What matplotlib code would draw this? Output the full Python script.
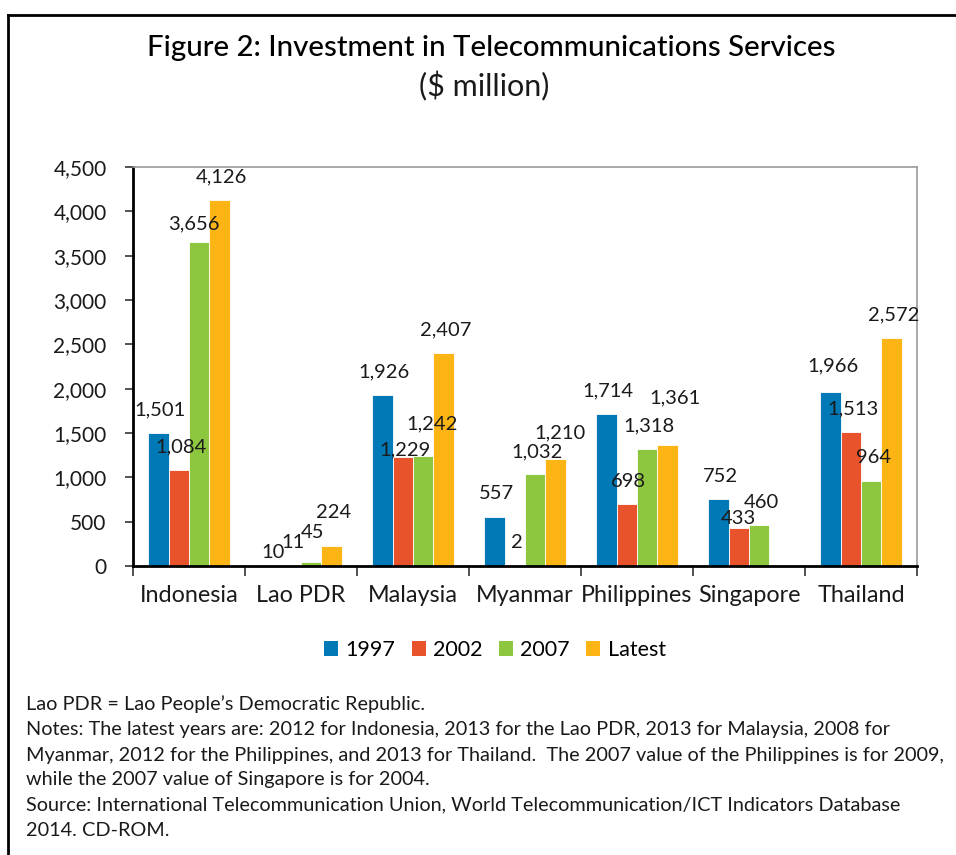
import matplotlib
matplotlib.use("Agg")
import matplotlib.pyplot as plt
from matplotlib.patches import Patch
from matplotlib.lines import Line2D
import numpy as np

countries = ["Indonesia", "Lao PDR", "Malaysia", "Myanmar", "Philippines", "Singapore", "Thailand"]
series_names = ["1997", "2002", "2007", "Latest"]
v1997 = [1501, 10, 1926, 557, 1714, 752, 1966]
v2002 = [1084, 11, 1229, 2, 698, 433, 1513]
v2007 = [3656, 45, 1242, 1032, 1318, 460, 964]
vlatest = [4126, 224, 2407, 1210, 1361, None, 2572]
yticks = [0, 500, 1000, 1500, 2000, 2500, 3000, 3500, 4000, 4500]

# label placement nudges (pixels: dx, dy) relative to the default outside-end position
label_nudges = {
    ("Indonesia", 2): (-7, -5),
    ("Lao PDR", 0): (1, -10),
    ("Lao PDR", 2): (-1, 7),
    ("Lao PDR", 3): (0, 11),
    ("Malaysia", 1): (0, -16),
    ("Malaysia", 2): (7, 9),
    ("Myanmar", 3): (2, 3),
    ("Philippines", 3): (5, 24),
    ("Singapore", 1): (-2, -14),
    ("Thailand", 0): (1, 3),
}

colors = ["#0079B6", "#E8532C", "#8DC63F", "#FDB515"]
FONT = ["Lato", "DejaVu Sans"]
plt.rcParams["font.family"] = FONT

W, H = 956, 855
fig = plt.figure(figsize=(W / 100, H / 100), dpi=100)
ax = fig.add_axes([133 / W, 1 - 566 / H, 784 / W, 399 / H])

PX = 0.72  # points per pixel at dpi 100
x = np.arange(len(countries))
bw = 0.183
allvals = [v1997, v2002, v2007, vlatest]
for i, (vals, col) in enumerate(zip(allvals, colors)):
    off = (i - 1.5) * bw
    for ci, (xi, v) in enumerate(zip(x, vals)):
        if v is None:
            continue
        ax.bar(xi + off, v, width=bw, color=col, edgecolor="white", linewidth=0.6, zorder=2)
        ndx, ndy = label_nudges.get((countries[ci], i), (0, 0))
        ax.annotate(f"{v:,}", (xi + off, v), xytext=((2 + ndx) * PX, (23 + ndy) * PX),
                    textcoords="offset points", ha="center", va="center", fontsize=14.5,
                    color="#1a1a1a", zorder=3)

ax.set_xlim(-0.5, len(countries) - 0.5)
ax.set_ylim(0, 4500)
ax.set_yticks(yticks)
ax.set_yticklabels([f"{t:,}" for t in yticks], fontsize=15, color="#1a1a1a")
ax.tick_params(axis="y", direction="out", length=6, width=1.2, pad=13, color="#333333")

ax.set_xticks(np.arange(-0.5, len(countries)), minor=False)
ax.set_xticklabels([""] * (len(countries) + 1))
ax.set_xticks(x, minor=True)
ax.set_xticklabels(countries, minor=True, fontsize=16.8, color="#1a1a1a")
ax.tick_params(axis="x", which="major", direction="out", length=7, width=1.2, color="#333333")
ax.tick_params(axis="x", which="minor", length=0, pad=14)

for s in ["left", "bottom"]:
    ax.spines[s].set_linewidth(2)
    ax.spines[s].set_color("black")
for s in ["top", "right"]:
    ax.spines[s].set_linewidth(1.2)
    ax.spines[s].set_color("#9a9a9a")

handles = [Patch(facecolor=c, edgecolor="none") for c in colors]
fig.legend(handles, series_names, loc="center", bbox_to_anchor=(495 / W, 1 - 650 / H), ncol=4,
           frameon=False, fontsize=15.5, handlelength=0.65, handleheight=0.65, handletextpad=0.35,
           columnspacing=0.75)

fig.text(491 / W, 1 - 48 / H, "Figure 2: Investment in Telecommunications Services",
         ha="center", va="center", fontsize=21.2, fontweight="medium", color="black")
fig.text(484 / W, 1 - 86 / H, "($ million)", ha="center", va="center", fontsize=22, color="#1a1a1a")

notes = [
    "Lao PDR = Lao People\u2019s Democratic Republic.",
    "Notes: The latest years are: 2012 for Indonesia, 2013 for the Lao PDR, 2013 for Malaysia, 2008 for",
    "Myanmar, 2012 for the Philippines, and 2013 for Thailand.  The 2007 value of the Philippines is for 2009,",
    "while the 2007 value of Singapore is for 2004.",
    "Source: International Telecommunication Union, World Telecommunication/ICT Indicators Database",
    "2014. CD-ROM.",
]
ys = [704, 730, 755, 780, 805, 830]
for t, yy in zip(notes, ys):
    fig.text(26 / W, 1 - yy / H, t, ha="left", va="center", fontsize=14.3, color="#1a1a1a")

fig.add_artist(Line2D([8 / W, 8 / W], [0, 1 - 15 / H], transform=fig.transFigure, color="black", linewidth=2))
fig.add_artist(Line2D([8 / W, 1], [1 - 15 / H, 1 - 15 / H], transform=fig.transFigure, color="black", linewidth=2))

fig.savefig("out.png", dpi=100)
